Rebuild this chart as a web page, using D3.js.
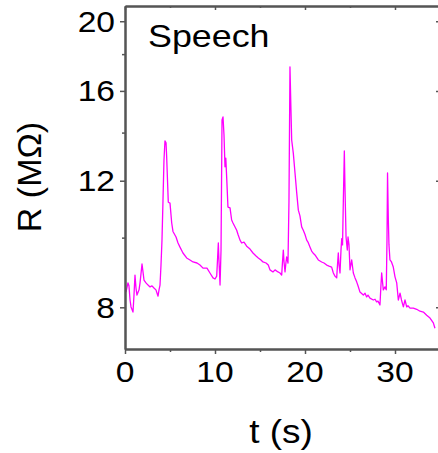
<!DOCTYPE html>
<html>
<head>
<meta charset="utf-8">
<script src="https://cdn.jsdelivr.net/npm/d3@7"></script>
<style>
  html, body { margin: 0; padding: 0; background: #fff; }
  svg { display: block; }
  text { font-family: "Liberation Sans", Arial, Helvetica, sans-serif; fill: #000; }
</style>
</head>
<body>
<svg id="chart" width="438" height="453"></svg>
<script>
// Resistance trace recorded while speaking: time (s) and resistance (MΩ)
const timeS = [
  0.11, 0.33, 0.44, 0.56, 0.67, 0.89, 1.00, 1.11, 1.22, 1.33, 1.56, 1.67, 1.89, 2.00, 2.11, 2.33, 2.56, 2.78, 3.00, 3.22,
  3.44, 3.67, 3.78, 3.89, 4.00, 4.11, 4.22, 4.33, 4.44, 4.56, 4.63, 4.81, 5.00, 5.19, 5.33, 5.67, 5.89, 6.11, 6.44, 6.85,
  7.22, 7.56, 8.00, 8.33, 8.67, 9.11, 9.44, 9.78, 10.00, 10.19, 10.37, 10.44, 10.56, 10.67, 10.78, 10.89, 11.00, 11.11, 11.20, 11.30,
  11.44, 11.67, 11.85, 12.00, 12.41, 12.56, 12.78, 12.96, 13.22, 13.52, 13.89, 14.22, 14.56, 14.81, 15.11, 15.33, 15.67, 15.92, 16.11, 16.44,
  16.67, 17.00, 17.22, 17.41, 17.50, 17.59, 17.67, 17.78, 17.89, 17.96, 18.11, 18.22, 18.33, 18.44, 18.52, 18.70, 18.89, 19.08, 19.26, 19.44,
  19.63, 19.81, 20.00, 20.19, 20.33, 20.56, 20.74, 20.89, 21.11, 21.48, 21.85, 22.11, 22.41, 22.67, 22.96, 23.15, 23.33, 23.52, 23.61, 23.70,
  23.78, 23.89, 24.00, 24.08, 24.17, 24.26, 24.37, 24.44, 24.56, 24.70, 24.78, 24.89, 25.00, 25.19, 25.37, 25.56, 25.74, 25.89, 26.11, 26.48,
  26.67, 26.85, 27.00, 27.22, 27.59, 27.78, 27.96, 28.11, 28.33, 28.44, 28.52, 28.70, 28.89, 29.03, 29.11, 29.17, 29.26, 29.33, 29.44, 29.61,
  29.81, 30.00, 30.19, 30.37, 30.56, 30.72, 30.93, 31.11, 31.30, 31.44, 31.67, 32.04, 32.41, 32.78, 33.15, 33.52, 33.89, 34.26, 34.44
];
const resistanceMOhm = [
  8.40, 8.65, 8.57, 8.19, 8.01, 7.88, 8.32, 8.87, 8.51, 8.32, 8.46, 8.65, 9.19, 8.96, 8.73, 8.65, 8.59, 8.54, 8.57, 8.51,
  8.46, 8.29, 8.46, 8.59, 9.16, 9.92, 11.25, 12.80, 13.63, 13.55, 12.95, 11.20, 11.17, 10.48, 10.20, 10.02, 9.83, 9.70, 9.52, 9.37,
  9.31, 9.25, 9.22, 9.16, 9.07, 9.07, 8.93, 8.79, 8.76, 8.84, 9.83, 9.31, 8.59, 9.61, 14.58, 14.72, 13.89, 12.55, 12.90, 12.11,
  11.03, 11.00, 10.58, 10.48, 10.24, 10.10, 9.92, 9.83, 9.86, 9.73, 9.64, 9.52, 9.43, 9.37, 9.31, 9.25, 9.22, 9.16, 9.02, 8.96,
  9.02, 8.96, 8.93, 8.87, 9.25, 9.61, 9.25, 8.96, 9.25, 9.40, 9.22, 11.25, 17.28, 15.05, 13.67, 13.11, 12.30, 11.54, 10.92, 10.72,
  10.35, 10.24, 10.10, 9.92, 9.86, 9.70, 9.58, 9.52, 9.46, 9.31, 9.25, 9.22, 9.16, 9.13, 9.10, 8.93, 8.84, 8.79, 9.16, 9.52,
  9.16, 8.93, 9.61, 9.97, 9.77, 11.25, 13.20, 11.77, 10.02, 9.61, 10.02, 9.77, 9.02, 9.31, 8.93, 8.79, 8.68, 8.57, 8.40, 8.32,
  8.37, 8.27, 8.32, 8.24, 8.19, 8.21, 8.14, 8.16, 8.06, 8.59, 8.93, 8.46, 8.54, 8.46, 9.92, 12.30, 10.58, 9.77, 9.31, 9.25,
  9.10, 8.82, 8.65, 8.19, 8.37, 8.19, 8.01, 8.19, 8.01, 8.04, 7.98, 7.98, 7.95, 7.90, 7.88, 7.80, 7.73, 7.61, 7.48
];

// Axis ticks
const xMajorTicks = [0, 10, 20, 30];
const xMinorTicks = [5, 15, 25];
const yMajorTicks = [8, 12, 16, 20];
const yMinorTicks = [10, 14, 18];

const xDomain = [0, 35];
const yDomain = [7, 21];

const svg = d3.select("#chart");
const plot = { left: 125, right: 440, top: 6, bottom: 349 };
const stretch = 1.12;   // horizontal widening of the lettering
const axisColor = "#555";

const x = d3.scaleLinear().domain(xDomain).range([plot.left, plot.right]);
const y = d3.scaleLog().domain(yDomain).range([plot.bottom, plot.top]);

const points = timeS.map((t, i) => [t, resistanceMOhm[i]]);

// Trace
svg.append("path")
  .datum(points)
  .attr("fill", "none")
  .attr("stroke", "#ff00ff")
  .attr("stroke-width", 1.3)
  .attr("stroke-linejoin", "round")
  .attr("d", d3.line().x(d => x(d[0])).y(d => y(d[1])));

// Axes: ticks outward on bottom/left, inward on top/right
function styleAxis(g) {
  g.selectAll("path, line").attr("stroke", axisColor).attr("stroke-width", 1.5);
  g.select(".domain").attr("stroke-width", 2);
}

const bottomMajor = svg.append("g").attr("transform", `translate(0,${plot.bottom})`)
  .call(d3.axisBottom(x).tickValues(xMajorTicks).tickSize(5).tickSizeOuter(0).tickFormat(""));
styleAxis(bottomMajor);
const bottomMinor = svg.append("g").attr("transform", `translate(0,${plot.bottom})`)
  .call(d3.axisBottom(x).tickValues(xMinorTicks).tickSize(3).tickSizeOuter(0).tickFormat(""));
styleAxis(bottomMinor);

const topMajor = svg.append("g").attr("transform", `translate(0,${plot.top})`)
  .call(d3.axisBottom(x).tickValues(xMajorTicks).tickSize(4).tickSizeOuter(0).tickFormat(""));
styleAxis(topMajor);
const topMinor = svg.append("g").attr("transform", `translate(0,${plot.top})`)
  .call(d3.axisBottom(x).tickValues(xMinorTicks).tickSize(2).tickSizeOuter(0).tickFormat(""));
styleAxis(topMinor);

const leftMajor = svg.append("g").attr("transform", `translate(${plot.left},0)`)
  .call(d3.axisLeft(y).tickValues(yMajorTicks).tickSize(5).tickSizeOuter(0).tickFormat(""));
styleAxis(leftMajor);
const leftMinor = svg.append("g").attr("transform", `translate(${plot.left},0)`)
  .call(d3.axisLeft(y).tickValues(yMinorTicks).tickSize(3).tickSizeOuter(0).tickFormat(""));
styleAxis(leftMinor);

const rightMajor = svg.append("g").attr("transform", `translate(${plot.right},0)`)
  .call(d3.axisLeft(y).tickValues(yMajorTicks).tickSize(4).tickSizeOuter(0).tickFormat(""));
styleAxis(rightMajor);
const rightMinor = svg.append("g").attr("transform", `translate(${plot.right},0)`)
  .call(d3.axisLeft(y).tickValues(yMinorTicks).tickSize(2).tickSizeOuter(0).tickFormat(""));
styleAxis(rightMinor);

// Tick labels
svg.append("g").selectAll("text")
  .data(xMajorTicks)
  .join("text")
  .attr("transform", d => `translate(${x(d)},382) scale(${stretch},1)`)
  .attr("text-anchor", "middle")
  .attr("font-size", 30)
  .text(d => d);

svg.append("g").selectAll("text")
  .data(yMajorTicks)
  .join("text")
  .attr("transform", d => `translate(${plot.left - 10},${y(d) + 10.5}) scale(${stretch},1)`)
  .attr("text-anchor", "end")
  .attr("font-size", 30)
  .text(d => d);

// Axis titles
svg.append("text")
  .attr("transform", `translate(281,443) scale(${stretch},1)`)
  .attr("text-anchor", "middle")
  .attr("font-size", 33)
  .text("t (s)");

svg.append("text")
  .attr("transform", `translate(41,177) rotate(-90)`)
  .attr("text-anchor", "middle")
  .attr("font-size", 34)
  .text("R (MΩ)");

// Panel label
svg.append("text")
  .attr("transform", `translate(148,47) scale(${stretch},1)`)
  .attr("font-size", 32)
  .text("Speech");
</script>
</body>
</html>
